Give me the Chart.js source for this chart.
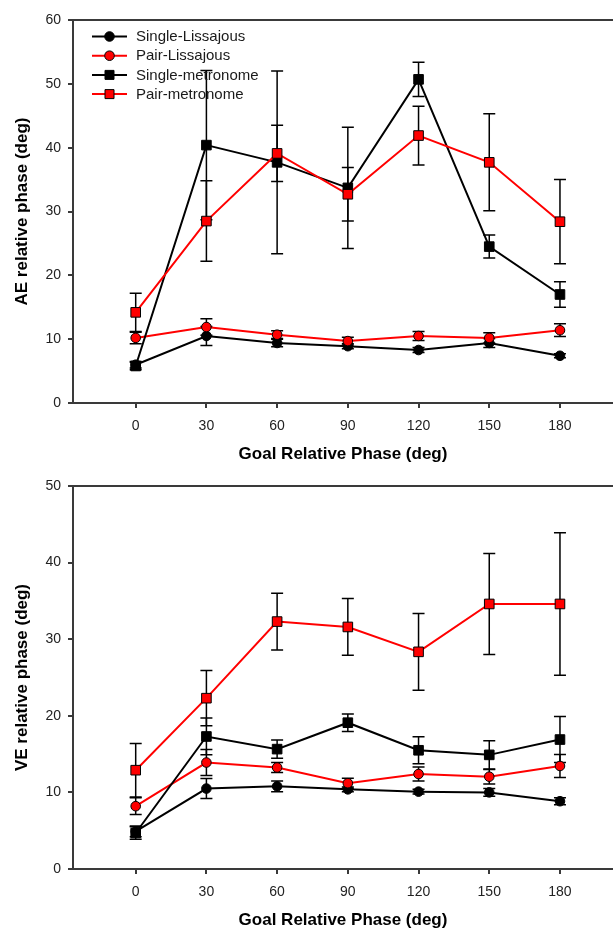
<!DOCTYPE html>
<html>
<head>
<meta charset="utf-8">
<script src="https://cdn.jsdelivr.net/npm/chart.js@4"></script>
<style>
  html, body { margin: 0; padding: 0; background: #fff; overflow: hidden; }
  #wrap { position: relative; width: 613px; height: 932px; }
  canvas { position: absolute; left: 0; }
  #aeChart { top: 0; }
  #veChart { top: 466px; }
</style>
</head>
<body>
<div id="wrap">
  <canvas id="aeChart" width="613" height="466"></canvas>
  <canvas id="veChart" width="613" height="466"></canvas>
</div>
<script>
// Goal relative phase (deg) - shared x values
const phases = [0, 30, 60, 90, 120, 150, 180];
const seriesNames = ['Single-Lissajous', 'Pair-Lissajous', 'Single-metronome', 'Pair-metronome'];

// AE relative phase (top panel), means and error bars
const aeSingleLiss = [6.0, 10.5, 9.4, 8.9, 8.3, 9.4, 7.4];
const aeSingleLissErr = [0.5, 1.5, 0.6, 0.4, 0.4, 0.7, 0.3];
const aePairLiss = [10.2, 11.9, 10.7, 9.7, 10.5, 10.2, 11.4];
const aePairLissErr = [0.9, 1.3, 0.6, 0.6, 0.7, 0.8, 1.0];
const aeSingleMetro = [5.8, 40.4, 37.7, 33.7, 50.7, 24.5, 17.0];
const aeSingleMetroErr = [0.6, 11.7, 14.3, 9.5, 2.7, 1.8, 2.0];
const aePairMetro = [14.2, 28.5, 39.1, 32.7, 41.9, 37.7, 28.4];
const aePairMetroErr = [3.0, 6.3, 4.4, 4.2, 4.6, 7.6, 6.6];

// VE relative phase (bottom panel)
const veSingleLiss = [4.9, 10.5, 10.8, 10.4, 10.1, 10.0, 8.85];
const veSingleLissErr = [0.7, 1.3, 0.7, 0.3, 0.3, 0.5, 0.45];
const vePairLiss = [8.2, 13.9, 13.25, 11.2, 12.4, 12.05, 13.45];
const vePairLissErr = [1.1, 1.7, 0.65, 0.65, 0.9, 0.95, 1.5];
const veSingleMetro = [4.7, 17.3, 15.65, 19.1, 15.5, 14.9, 16.9];
const veSingleMetroErr = [0.8, 2.4, 1.2, 1.15, 1.75, 1.85, 3.0];
const vePairMetro = [12.9, 22.3, 32.3, 31.6, 28.35, 34.6, 34.6];
const vePairMetroErr = [3.5, 3.6, 3.7, 3.7, 5.0, 6.6, 9.3];

const FONT = "'Liberation Sans', Arial, sans-serif";
const AXIS_COLOR = '#3a3a3a';

// marker look for each series (same order as seriesNames)
const styles = [
    { color: '#000000', fill: '#000000', point: 'circle', radius: 4.8 },
    { color: '#ff0000', fill: '#ff0000', point: 'circle', radius: 4.8 },
    { color: '#000000', fill: '#000000', point: 'rect', radius: 6.8 },
    { color: '#ff0000', fill: '#ff0000', point: 'rect', radius: 6.8 }
];

function makeDatasets(values, errors) {
    return values.map((vals, i) => ({
        label: seriesNames[i],
        data: vals.map((v, j) => ({ x: phases[j], y: v })),
        errors: errors[i],
        borderColor: styles[i].color,
        borderWidth: 2,
        pointStyle: styles[i].point,
        pointRadius: styles[i].radius,
        pointBackgroundColor: styles[i].fill,
        pointBorderColor: '#000',
        pointBorderWidth: 1,
        tension: 0,
        order: 4 - i // last series drawn on top
    }));
}

// error bars, all black, under the lines and markers
const errorBars = {
    id: 'errorBars',
    beforeDatasetsDraw(chart) {
        const ctx = chart.ctx;
        const yScale = chart.scales.y;
        ctx.save();
        ctx.strokeStyle = '#000';
        ctx.lineWidth = 1.5;
        chart.data.datasets.forEach((ds, i) => {
            const meta = chart.getDatasetMeta(i);
            meta.data.forEach((pt, j) => {
                const v = ds.data[j].y, e = ds.errors[j];
                const yTop = yScale.getPixelForValue(v + e);
                const yBot = yScale.getPixelForValue(v - e);
                ctx.beginPath();
                ctx.moveTo(pt.x, yTop); ctx.lineTo(pt.x, yBot);
                ctx.moveTo(pt.x - 6, yTop); ctx.lineTo(pt.x + 6, yTop);
                ctx.moveTo(pt.x - 6, yBot); ctx.lineTo(pt.x + 6, yBot);
                ctx.stroke();
            });
        });
        ctx.restore();
    }
};

// top frame line across the plot
const topFrame = {
    id: 'topFrame',
    afterDraw(chart) {
        const { ctx, chartArea } = chart;
        ctx.save();
        ctx.strokeStyle = AXIS_COLOR;
        ctx.lineWidth = 2;
        ctx.beginPath();
        ctx.moveTo(chartArea.left - 5, chartArea.top);
        ctx.lineTo(chartArea.right, chartArea.top);
        ctx.stroke();
        ctx.restore();
    }
};

// legend inside the plot, line with marker in the middle
const insideLegend = {
    id: 'insideLegend',
    afterDraw(chart) {
        if (!chart.options.plugins.insideLegend.show) return;
        const ctx = chart.ctx;
        ctx.save();
        ctx.font = '15px ' + FONT;
        ctx.textBaseline = 'middle';
        seriesNames.forEach((name, i) => {
            const y = 36.5 + i * 19.2;
            const s = styles[i];
            ctx.strokeStyle = s.color;
            ctx.lineWidth = 2;
            ctx.beginPath();
            ctx.moveTo(92, y); ctx.lineTo(127, y);
            ctx.stroke();
            ctx.fillStyle = s.fill;
            ctx.strokeStyle = '#000';
            ctx.lineWidth = 1;
            ctx.beginPath();
            if (s.point === 'circle') {
                ctx.arc(109.5, y, 4.8, 0, Math.PI * 2);
            } else {
                ctx.rect(105, y - 4.5, 9, 9);
            }
            ctx.fill();
            ctx.stroke();
            ctx.fillStyle = '#1a1a1a';
            ctx.fillText(name, 136, y + 0.5);
        });
        ctx.restore();
    }
};

function makeChart(canvasId, values, errors, yMax, yTitle, showLegend) {
    const ctx = document.getElementById(canvasId).getContext('2d');
    return new Chart(ctx, {
        type: 'line',
        data: { datasets: makeDatasets(values, errors) },
        options: {
            responsive: false,
            animation: false,
            devicePixelRatio: 1,
            layout: { autoPadding: false, padding: { top: 20, right: 0, left: 0, bottom: 0 } },
            scales: {
                x: {
                    type: 'linear',
                    min: -26.6,
                    max: 202.5,
                    afterBuildTicks: scale => { scale.ticks = phases.map(p => ({ value: p })); },
                    afterFit: scale => { scale.height = 63; },
                    grid: { display: true, drawOnChartArea: false, drawTicks: true, tickLength: 5, color: AXIS_COLOR, lineWidth: 2 },
                    border: { display: true, color: AXIS_COLOR, width: 2 },
                    ticks: { font: { family: FONT, size: 14 }, color: '#222', padding: 10, maxRotation: 0 },
                    title: {
                        display: true,
                        text: 'Goal Relative Phase (deg)',
                        font: { family: FONT, size: 17, weight: 'bold' },
                        color: '#000',
                        padding: { top: 0, bottom: 1 }
                    }
                },
                y: {
                    min: 0,
                    max: yMax,
                    afterFit: scale => { scale.width = 73; },
                    grid: { display: true, drawOnChartArea: false, drawTicks: true, tickLength: 5, color: AXIS_COLOR, lineWidth: 2 },
                    border: { display: true, color: AXIS_COLOR, width: 2 },
                    ticks: { stepSize: 10, font: { family: FONT, size: 14 }, color: '#222', padding: 7 },
                    title: {
                        display: true,
                        text: yTitle,
                        font: { family: FONT, size: 17, weight: 'bold' },
                        color: '#000',
                        padding: { top: 12, bottom: 0 }
                    }
                }
            },
            plugins: {
                legend: { display: false },
                tooltip: { enabled: false },
                insideLegend: { show: showLegend }
            }
        },
        plugins: [errorBars, topFrame, insideLegend]
    });
}

makeChart('aeChart',
    [aeSingleLiss, aePairLiss, aeSingleMetro, aePairMetro],
    [aeSingleLissErr, aePairLissErr, aeSingleMetroErr, aePairMetroErr],
    60, 'AE relative phase (deg)', true);

makeChart('veChart',
    [veSingleLiss, vePairLiss, veSingleMetro, vePairMetro],
    [veSingleLissErr, vePairLissErr, veSingleMetroErr, vePairMetroErr],
    50, 'VE relative phase (deg)', false);
</script>
</body>
</html>
